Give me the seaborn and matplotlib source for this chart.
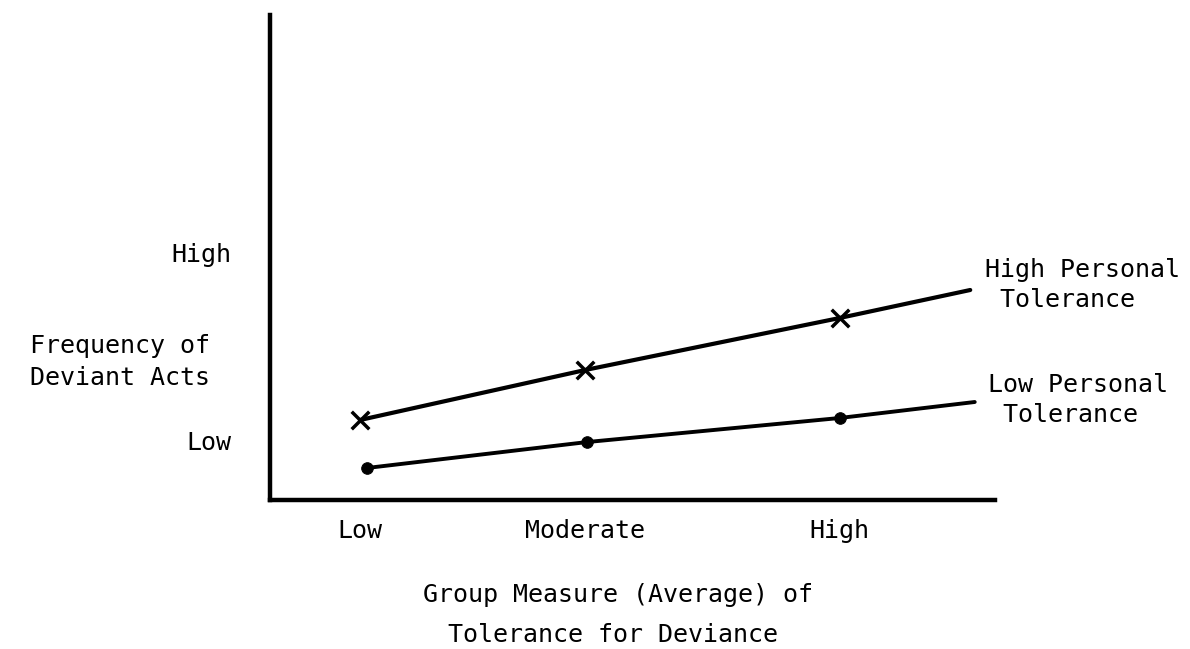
import numpy as np
import pandas as pd
import seaborn as sns
import matplotlib.pyplot as plt

sns.set_style("white")
plt.rcParams['font.family'] = ['DejaVu Sans Mono', 'DejaVu Sans']
plt.rcParams['text.color'] = 'black'
plt.rcParams['xtick.color'] = 'black'
plt.rcParams['ytick.color'] = 'black'

# values (arbitrary units, not to scale in the original)
group_levels = ['Low', 'Moderate', 'High']
group_pos = [1.0, 2.0, 3.13]
high_line_x = [1.0, 2.0, 3.13, 3.71]
high_line_y = [0.80, 1.30, 1.82, 2.10]
low_line_x = [1.03, 2.01, 3.13, 3.73]
low_line_y = [0.32, 0.58, 0.82, 0.98]
freq_levels = ['Low', 'High']
freq_pos = [0.60, 2.47]

fig = plt.figure(figsize=(11.9, 6.49), dpi=100)
W, H = 1190, 649
ax = fig.add_axes([270 / W, (H - 500) / H, (995 - 270) / W, (500 - 15) / H])

sns.lineplot(x=high_line_x, y=high_line_y, color='black', linewidth=3, ax=ax)
sns.lineplot(x=low_line_x, y=low_line_y, color='black', linewidth=2.8, ax=ax)
sns.scatterplot(x=high_line_x[:3], y=high_line_y[:3], marker='x', s=160,
                color='black', linewidth=2.5, ax=ax)
sns.scatterplot(x=low_line_x[:3], y=low_line_y[:3], marker='o', s=70,
                color='black', edgecolor='black', ax=ax)

ax.set_xlim(0.6, 3.82)
ax.set_ylim(0, 4.85)
sns.despine(ax=ax)
for side in ['left', 'bottom']:
    ax.spines[side].set_linewidth(3.2)
    ax.spines[side].set_color('black')

ax.set_xticks(group_pos)
ax.set_xticklabels(group_levels, fontsize=18)
ax.tick_params(axis='x', direction='in', length=11, width=2.2, pad=14, color='black')
ax.set_yticks(freq_pos)
ax.set_yticklabels(freq_levels, fontsize=18)
ax.tick_params(axis='y', length=0, pad=28)

fig.text(30 / W, 1 - 362 / H, "Frequency of\nDeviant Acts", fontsize=18,
         ha='left', va='center', linespacing=1.45)
fig.text(618 / W, 1 - 595 / H, "Group Measure (Average) of", fontsize=18,
         ha='center', va='center')
fig.text(613 / W, 1 - 635 / H, "Tolerance for Deviance", fontsize=18,
         ha='center', va='center')

fig.text(985 / W, 1 - 285 / H, "High Personal\n Tolerance", fontsize=18,
         ha='left', va='center', linespacing=1.3)
fig.text(988 / W, 1 - 400 / H, "Low Personal\n Tolerance", fontsize=18,
         ha='left', va='center', linespacing=1.3)

fig.savefig("out.png", dpi=100, facecolor='white')
